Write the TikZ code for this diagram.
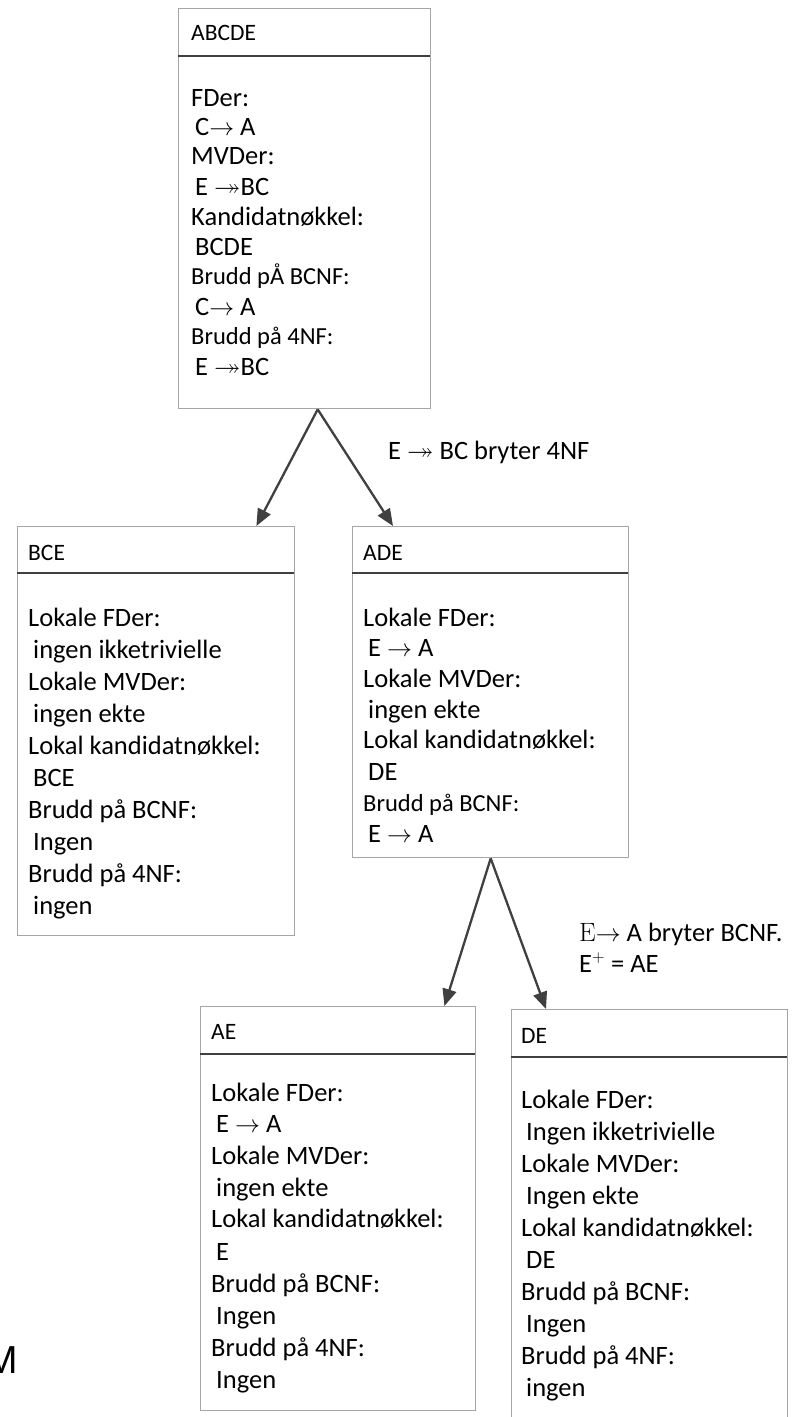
\documentclass[tikz,border=0pt]{standalone}
\usepackage{amssymb}
\usepackage{fontspec}
\setmainfont{Carlito}
\newfontfamily\arialfam{Liberation Sans}
\usetikzlibrary{arrows.meta}
\definecolor{boxgray}{HTML}{A6A6A6}
\definecolor{darkline}{HTML}{404040}
\newcommand{\ar}{\ensuremath{\rightarrow}}
\newcommand{\mv}{\ensuremath{\twoheadrightarrow}}
\begin{document}
\begin{tikzpicture}[x=1pt,y=-1pt,
  rel/.style={draw=boxgray, line width=1.4pt, inner sep=0pt, anchor=north west},
  sepline/.style={draw=darkline, line width=2.2pt},
  conn/.style={draw=darkline, line width=2.3pt, -{Triangle[length=17pt,width=14pt]}},
  hd/.style={anchor=base west, inner sep=0pt, font=\fontsize{23.5}{28}\selectfont},
  t/.style={anchor=base west, inner sep=0pt, font=\fontsize{26.5}{32}\selectfont},
  ts/.style={anchor=base west, inner sep=0pt, font=\fontsize{24.5}{30}\selectfont},
  lbl/.style={anchor=base west, inner sep=0pt, font=\fontsize{26.5}{32}\selectfont}]
\clip (0,0) rectangle (794,1417);
\fill[white] (0,0) rectangle (794,1417);

% ---------- boxes ----------
\node[rel, minimum width=252pt, minimum height=400pt] (abcde) at (178,8) {};
\node[rel, minimum width=277pt, minimum height=409pt] (bce) at (17,526) {};
\node[rel, minimum width=276pt, minimum height=331pt] (ade) at (352,526) {};
\node[rel, minimum width=275pt, minimum height=404pt] (ae) at (200,1006) {};
\node[rel, minimum width=276pt, minimum height=440pt] (de) at (511,1009) {};

% header separators
\draw[sepline] (178,56) -- (430,56);
\draw[sepline] (17,573) -- (294,573);
\draw[sepline] (352,573) -- (628,573);
\draw[sepline] (200,1054) -- (475,1054);
\draw[sepline] (511,1057) -- (787,1057);

% ---------- ABCDE ----------
\node[hd] (abcdeh) at (191,40) {ABCDE};
\node[t]  (a1) at (191,106) {FDer:};
\node[t]  (a2) at (195,135) {C\ar\ A};
\node[t]  (a3) at (191,164) {MVDer:};
\node[t]  (a4) at (195,195) {E \mv BC};
\node[t]  (a5) at (191,225) {Kandidatnøkkel:};
\node[t]  (a6) at (195,255) {BCDE};
\node[ts] (a7) at (191,284) {Brudd pÅ BCNF:};
\node[t]  (a8) at (195,315) {C\ar\ A};
\node[ts] (a9) at (191,344) {Brudd på 4NF:};
\node[t]  (a10) at (195,375) {E \mv BC};

% ---------- BCE ----------
\node[hd] (bceh) at (28,560) {BCE};
\foreach \y/\xx/\s [count=\i] in {617/28/{Lokale FDer:},649/33/{ingen ikketrivielle},681/28/{Lokale MVDer:},713/33/{ingen ekte},745/28/{Lokal kandidatnøkkel:},777/33/{BCE},809/28/{Brudd på BCNF:},841/33/{Ingen},873/28/{Brudd på 4NF:},905/33/{ingen}}
  \node[t, name=b\i] at (\xx,\y+9) {\s};

% ---------- ADE ----------
\node[hd] (adeh) at (363,560) {ADE};
\node[t]  (d1) at (363,626) {Lokale FDer:};
\node[t]  (d2) at (368,656) {E \ar\ A};
\node[t]  (d3) at (363,687) {Lokale MVDer:};
\node[t]  (d4) at (368,718) {ingen ekte};
\node[t]  (d5) at (363,748) {Lokal kandidatnøkkel:};
\node[t]  (d6) at (368,780) {DE};
\node[ts] (d7) at (363,811) {Brudd på BCNF:};
\node[t]  (d8) at (368,842) {E \ar\ A};

% ---------- AE ----------
\node[hd] (aeh) at (211,1039) {AE};
\foreach \y/\xx/\s [count=\i] in {1092/211/{Lokale FDer:},1123/216/{E \ar\ A},1155/211/{Lokale MVDer:},1187/216/{ingen ekte},1218/211/{Lokal kandidatnøkkel:},1251/216/{E},1283/211/{Brudd på BCNF:},1315/216/{Ingen},1347/211/{Brudd på 4NF:},1379/216/{Ingen}}
  \node[t, name=e\i] at (\xx,\y+9) {\s};

% ---------- DE ----------
\node[hd] (deh) at (521,1043) {DE};
\foreach \y/\xx/\s [count=\i] in {1099/521/{Lokale FDer:},1131/526/{Ingen ikketrivielle},1163/521/{Lokale MVDer:},1195/526/{Ingen ekte},1227/521/{Lokal kandidatnøkkel:},1259/526/{DE},1291/521/{Brudd på BCNF:},1323/526/{Ingen},1355/521/{Brudd på 4NF:},1387/526/{ingen}}
  \node[t, name=f\i] at (\xx,\y+9) {\s};

% ---------- connectors ----------
\draw[conn] ([xshift=13pt]abcde.south) -- ([xshift=-39pt]bce.north east);
\draw[conn] ([xshift=13pt]abcde.south) -- ([xshift=41pt]ade.north west);
\draw[conn] (ade.south) -- ([xshift=-32pt]ae.north east);
\draw[conn] (ade.south) -- ([xshift=35pt]de.north west);

% ---------- labels ----------
\node[lbl] (l1) at (388,459) {E \mv\ BC bryter 4NF};
\node[lbl] (l2) at (579,941) {{\fontspec{Latin Modern Roman}E}\ar\ A bryter BCNF.};
\node[lbl] (l3) at (579,972) {E$^{+}$ = AE};

% partial letter at the left edge
\node[anchor=base east, inner sep=0pt, font=\arialfam\fontsize{39}{44}\selectfont] (mm) at (18,1373) {M};
\end{tikzpicture}
\end{document}
